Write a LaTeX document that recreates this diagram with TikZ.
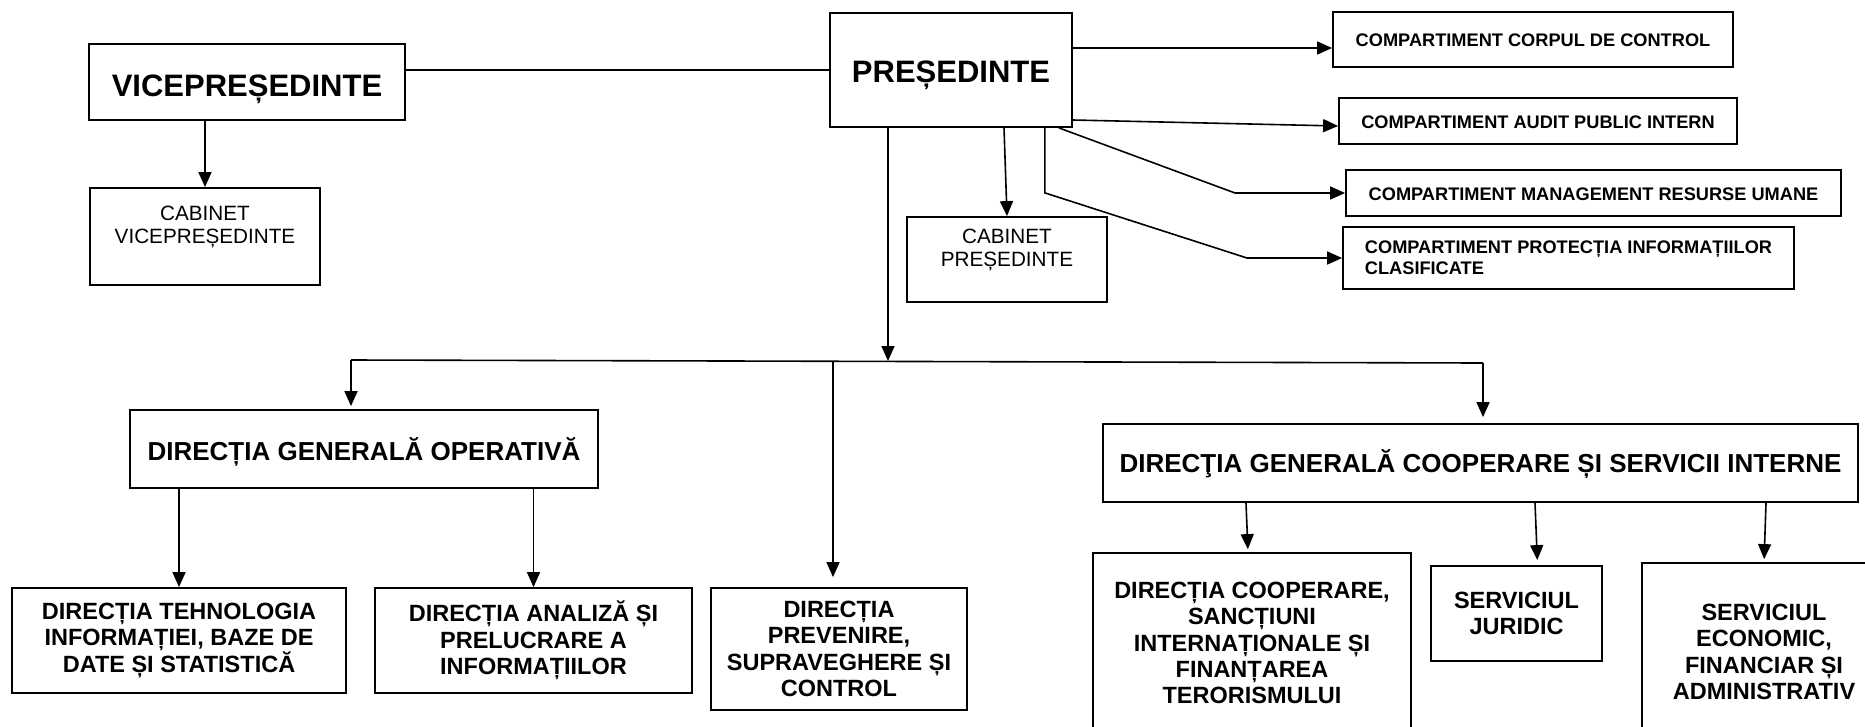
\documentclass[tikz,border=0pt]{standalone}
\usepackage{fontspec}
\setmainfont{Liberation Sans}
\usetikzlibrary{arrows.meta}

\begin{document}
\begin{tikzpicture}[x=1pt, y=-1pt,
	box/.style={draw=black, line width=1.8pt, align=center, inner sep=0pt},
	headbox/.style={box, font=\bfseries\fontsize{31}{36}\selectfont, text depth=0pt},
	compbox/.style={box, font=\bfseries\fontsize{18.2}{21}\selectfont},
	compline/.style={compbox, text height=14, text depth=0pt},
	cabbox/.style={box, font=\fontsize{20.7}{23}\selectfont},
	dirbox/.style={box, font=\bfseries\fontsize{26}{30}\selectfont, text depth=0pt},
	subbox/.style={box, font=\bfseries\fontsize{23.5}{26.3}\selectfont},
	plain/.style={draw=black, line width=1.6pt},
	arr/.style={plain, -{Triangle[length=15pt, width=13pt]}}]
	\clip (0,0) rectangle (1865,726);

	\node[headbox, minimum width=316, minimum height=76, text height=28] (vice) at (247,82) {VICEPREȘEDINTE};
	\node[headbox, minimum width=242, minimum height=114, text height=25] (pres) at (951,70) {PREȘEDINTE};
	\node[cabbox, minimum width=230, minimum height=97] (cabvice) at (205,236.5) {CABINET\\VICEPREȘEDINTE\\\mbox{}};
	\node[cabbox, minimum width=200, minimum height=85] (cabpres) at (1007,259.5) {CABINET\\PREȘEDINTE\\\mbox{}};

	\node[compline, minimum width=400, minimum height=55] (corpul) at (1533,39.5) {COMPARTIMENT CORPUL DE CONTROL};
	\node[compline, minimum width=398, minimum height=46] (audit) at (1538,121) {COMPARTIMENT AUDIT PUBLIC INTERN};
	\node[compline, minimum width=495, minimum height=46] (resurse) at (1593.5,193) {COMPARTIMENT MANAGEMENT RESURSE UMANE};
	\node[compbox, align=left, minimum width=451, minimum height=62] (protectia) at (1568.5,258) {COMPARTIMENT PROTECȚIA INFORMAȚIILOR\\CLASIFICATE};

	\node[dirbox, minimum width=468, minimum height=78, text height=23] (dgo) at (364,449) {DIRECȚIA GENERALĂ OPERATIVĂ};
	\node[dirbox, minimum width=755, minimum height=78, text height=19] (dgcsi) at (1480.5,463) {DIRECŢIA GENERALĂ COOPERARE ȘI SERVICII INTERNE};

	\node[subbox, minimum width=334, minimum height=105] (tehno) at (179,640.5) {DIRECȚIA TEHNOLOGIA\\INFORMAȚIEI, BAZE DE\\DATE ȘI STATISTICĂ};
	\node[subbox, minimum width=317, minimum height=105] (analiza) at (533.5,640.5) {DIRECȚIA ANALIZĂ ȘI\\PRELUCRARE A\\INFORMAȚIILOR};
	\node[subbox, minimum width=256, minimum height=122] (prev) at (839,649) {DIRECȚIA\\PREVENIRE,\\SUPRAVEGHERE ȘI\\CONTROL};
	\node[subbox, minimum width=318, minimum height=180] (coop) at (1252,643) {DIRECȚIA COOPERARE,\\SANCȚIUNI\\INTERNAȚIONALE ȘI\\FINANȚAREA\\TERORISMULUI};
	\node[subbox, minimum width=171, minimum height=95] (juridic) at (1516.5,613.5) {SERVICIUL\\JURIDIC};
	\node[subbox, minimum width=244, minimum height=178] (econ) at (1764,652) {SERVICIUL\\ECONOMIC,\\FINANCIAR ȘI\\ADMINISTRATIV};

	\coordinate (busl) at (351,360);
	\coordinate (busr) at (1483,363);
	\coordinate (busp) at (888,361);
	\coordinate (busm) at (833,361);
	\coordinate (bendres) at (1235,193);
	\coordinate (bendprot) at (1247,258);

	\path (pres.west -| vice.east) edge[plain] (pres.west);
	\path (vice.south -| cabvice.north) edge[arr] (cabvice.north);
	\path ([xshift=53]pres.south) edge[arr] (cabpres.north);
	\path ([yshift=22]pres.east) edge[arr] ([yshift=22]pres.east -| corpul.west);
	\path ([yshift=-50]pres.east) edge[arr] ([yshift=-5]audit.west);
	\draw[arr] ([xshift=-14]pres.south east) -- (bendres) -- (resurse.west);
	\draw[arr] ([xshift=-28]pres.south east) -- ++(0,65) -- (bendprot) -- (protectia.west);

	\path ([xshift=-63]pres.south) edge[arr] (busp);
	\draw[plain] (busl) -- (busr);
	\path (busl) edge[arr, shorten >=3] (busl |- dgo.north);
	\path (busm) edge[arr, shorten >=10] (busm |- prev.north);
	\path (busr) edge[arr, shorten >=6] (busr |- dgcsi.north);

	\path (dgo.south -| tehno.north) edge[arr] (tehno.north);
	\path (dgo.south -| analiza.north) edge[arr] (analiza.north);
	\path ([xshift=-234.5]dgcsi.south) edge[arr, shorten >=3] ([xshift=-4]coop.north);
	\path ([xshift=54.5]dgcsi.south) edge[arr, shorten >=5] ([xshift=21]juridic.north);
	\path ([xshift=285.5]dgcsi.south) edge[arr, shorten >=3] (econ.north);
\end{tikzpicture}
\end{document}
